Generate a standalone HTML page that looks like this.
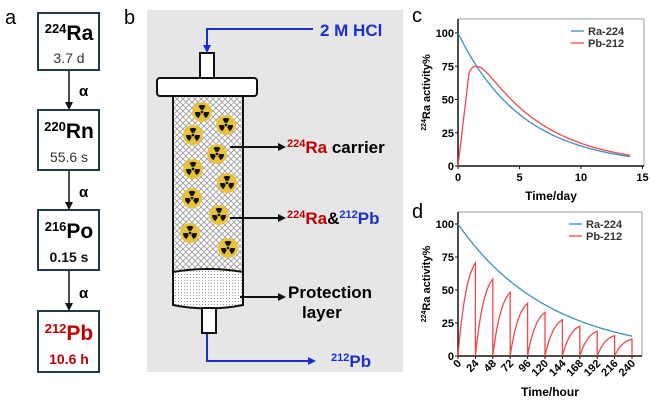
<!DOCTYPE html>
<html><head><meta charset="utf-8"><style>
body{margin:0;background:#fff;width:650px;height:402px;overflow:hidden}
svg{font-family:"Liberation Sans","DejaVu Sans",sans-serif}
</style></head><body>
<svg id="s" width="650" height="402" viewBox="0 0 650 402" xmlns="http://www.w3.org/2000/svg">
<defs>
<pattern id="hatch" width="6" height="6" patternUnits="userSpaceOnUse">
<rect width="6" height="6" fill="#fff"/>
<path d="M0,0L6,6M6,0L0,6" stroke="#999" stroke-width="0.8"/>
</pattern>
<pattern id="dots" width="3" height="3" patternUnits="userSpaceOnUse">
<rect width="3" height="3" fill="#fff"/><rect x="1" y="1" width="1" height="1" fill="#999"/>
</pattern>
<marker id="ab" markerWidth="8" markerHeight="8" refX="6" refY="4" orient="auto" markerUnits="userSpaceOnUse"><path d="M0,0L8,4L0,8z" fill="#111"/></marker>
<marker id="abl" markerWidth="8" markerHeight="8" refX="6" refY="4" orient="auto" markerUnits="userSpaceOnUse"><path d="M0,0L8,4L0,8z" fill="#1a2fd0"/></marker>
<g id="rad"><circle r="10" fill="#e8c23a"/><circle r="1.6" fill="#111"/>
<path d="M0,0 L-3.5,-6.1 A7,7 0 0,1 3.5,-6.1Z M0,0 L7,0 A7,7 0 0,1 3.5,6.1Z M0,0 L-3.5,6.1 A7,7 0 0,1 -7,0Z" fill="#111"/><circle r="2.3" fill="#e8c23a"/><circle r="1.4" fill="#111"/></g>
</defs>
<text x="5" y="24" font-size="20">a</text>
<g fill="none" stroke="#1f3a4a" stroke-width="2">
<rect x="38" y="13" width="61" height="57"/><rect x="38" y="110" width="61" height="60"/>
<rect x="38" y="210" width="61" height="60"/><rect x="38" y="311" width="61" height="61"/>
</g>
<g stroke="#111" stroke-width="1.5" marker-end="url(#ab)">
<line x1="69" y1="71" x2="69" y2="108"/><line x1="69" y1="171" x2="69" y2="208"/><line x1="69" y1="271" x2="69" y2="309"/>
</g>
<g font-weight="bold" font-size="15"><text x="79" y="96">α</text><text x="79" y="197">α</text><text x="79" y="298">α</text></g>
<g font-weight="bold" text-anchor="middle">
<text x="69" y="40" font-size="21"><tspan font-size="13" dy="-7">224</tspan><tspan dy="7">Ra</tspan></text>
<text x="69" y="138" font-size="21"><tspan font-size="13" dy="-7">220</tspan><tspan dy="7">Rn</tspan></text>
<text x="69" y="238" font-size="21"><tspan font-size="13" dy="-7">216</tspan><tspan dy="7">Po</tspan></text>
<text x="69" y="340" font-size="21" fill="#c00000"><tspan font-size="13" dy="-7">212</tspan><tspan dy="7">Pb</tspan></text>
</g>
<text x="69" y="63" font-size="14" text-anchor="middle" fill="#333">3.7 d</text>
<text x="69" y="162" font-size="14" text-anchor="middle" fill="#333">55.6 s</text>
<text x="69" y="262" font-size="14" text-anchor="middle" font-weight="bold" fill="#111">0.15 s</text>
<text x="69" y="364" font-size="14" text-anchor="middle" font-weight="bold" fill="#c00000">10.6 h</text>
<text x="124" y="24" font-size="20">b</text>
<rect x="147" y="10" width="256" height="362" fill="#e6e6e6"/>
<path d="M313,29 H207 V51" fill="none" stroke="#1a2fd0" stroke-width="2" marker-end="url(#abl)"/>
<text x="320" y="36" font-size="17" font-weight="bold" fill="#1a2fd0">2 M HCl</text>
<rect x="200" y="53" width="14" height="25" fill="#fff" stroke="#111" stroke-width="2"/>
<rect x="173" y="94" width="70" height="178" fill="url(#hatch)" stroke="#111" stroke-width="2"/>
<path d="M173,272 Q208,266 243,272 V305 Q208,312 173,305Z" fill="url(#dots)" stroke="#111" stroke-width="2"/>
<rect x="202" y="308" width="14" height="25" fill="#fff" stroke="#111" stroke-width="2"/>
<rect x="157" y="78" width="100" height="18" rx="3" fill="#fff" stroke="#111" stroke-width="2"/>
<use href="#rad" x="202" y="112"/><use href="#rad" x="226" y="125"/><use href="#rad" x="193" y="135"/>
<use href="#rad" x="217" y="154"/><use href="#rad" x="193" y="169"/><use href="#rad" x="227" y="183"/>
<use href="#rad" x="192" y="198"/><use href="#rad" x="219" y="215"/><use href="#rad" x="190" y="233"/><use href="#rad" x="228" y="248"/>
<g stroke="#111" stroke-width="2" marker-end="url(#ab)">
<line x1="230" y1="147" x2="284" y2="147"/><line x1="230" y1="218" x2="284" y2="218"/><line x1="240" y1="297" x2="284" y2="297"/>
</g>
<text x="287" y="153" font-size="17" font-weight="bold"><tspan fill="#c00000"><tspan font-size="11" dy="-6">224</tspan><tspan dy="6">Ra</tspan></tspan> carrier</text>
<text x="287" y="224" font-size="17" font-weight="bold"><tspan fill="#c00000"><tspan font-size="11" dy="-6">224</tspan><tspan dy="6">Ra</tspan></tspan>&amp;<tspan fill="#1a2fd0"><tspan font-size="11" dy="-6">212</tspan><tspan dy="6">Pb</tspan></tspan></text>
<text x="288" y="298" font-size="17" font-weight="bold">Protection</text>
<text x="302" y="318" font-size="17" font-weight="bold">layer</text>
<path d="M207,334 V361 H314" fill="none" stroke="#1a2fd0" stroke-width="2" marker-end="url(#abl)"/>
<text x="331" y="367" font-size="17" font-weight="bold" fill="#1a2fd0"><tspan font-size="11" dy="-6">212</tspan><tspan dy="6">Pb</tspan></text>
<text x="412" y="22" font-size="20">c</text>
<text x="412" y="218" font-size="20">d</text>
<g id="charts"></g>
</svg>
<script>
var g=document.getElementById('charts'),NS='http://www.w3.org/2000/svg';
function el(t,a,txt){var e=document.createElementNS(NS,t);for(var k in a)e.setAttribute(k,a[k]);if(txt!=null)e.textContent=txt;g.appendChild(e);return e;}
function chart(x0,x1,xmax,ytop,y100,y0,right,ticks,rot,xt,ra,pb){
 var sx=function(v){return x0+(x1-x0)*v/xmax},sy=function(v){return y0-(y0-y100)*v/100};
 el('path',{d:'M'+x0+','+ytop+'H'+right+'V'+y0,fill:'none',stroke:'#999','stroke-width':1});
 el('path',{d:'M'+x0+','+ytop+'V'+y0+'H'+right,fill:'none',stroke:'#111','stroke-width':1.5});
 [0,25,50,75,100].forEach(function(v){var y=sy(v);el('line',{x1:x0-3,x2:x0,y1:y,y2:y,stroke:'#111'});el('text',{x:x0-4,y:y+4,'font-size':11,'font-weight':'bold','text-anchor':'end'},v);});
 ticks.forEach(function(v){var x=sx(v);el('line',{x1:x,x2:x,y1:y0,y2:y0+3,stroke:'#111'});
  if(rot)el('text',{x:x+4,y:y0+8,'font-size':11,'font-weight':'bold','text-anchor':'end',transform:'rotate(-45 '+(x+4)+' '+(y0+8)+')'},v);
  else el('text',{x:x,y:y0+15,'font-size':11,'font-weight':'bold','text-anchor':'middle'},v);});
 el('text',{x:(x0+right)/2,y:xt,'font-size':12,'font-weight':'bold','text-anchor':'middle'},'Time/'+(rot?'hour':'day'));
 var ty=(ytop+y0)/2,t=el('text',{x:430,y:ty,'font-size':11,'font-weight':'bold','text-anchor':'middle',transform:'rotate(-90 430 '+ty+')'});
 t.innerHTML='<tspan font-size="7" dy="-4">224</tspan><tspan dy="4">Ra activity%</tspan>';
 el('path',{d:ra,fill:'none',stroke:'#3a8fc4','stroke-width':1.3});
 el('path',{d:pb,fill:'none',stroke:'#f04848','stroke-width':1.3});
 el('line',{x1:right-73,x2:right-60,y1:ytop+12,y2:ytop+12,stroke:'#3a8fc4','stroke-width':1.3});
 el('line',{x1:right-73,x2:right-60,y1:ytop+24,y2:ytop+24,stroke:'#f04848','stroke-width':1.3});
 el('text',{x:right-56,y:ytop+16,'font-size':11,'font-weight':'bold',fill:'#333'},'Ra-224');
 el('text',{x:right-56,y:ytop+28,'font-size':11,'font-weight':'bold',fill:'#333'},'Pb-212');
}
var lr=Math.LN2/3.66,lp=Math.LN2/(10.6/24);
function sxc(v){return 458+12.3*v} function syc(v){return 166-1.33*v}
var ra='',pb='';
for(var i=0;i<=140;i++){var t=i/10;ra+=(i?'L':'M')+sxc(t).toFixed(1)+','+syc(100*Math.exp(-lr*t)).toFixed(1);
 var p=t<=0.9?t/0.9*70:100*lp/(lp-lr)*(Math.exp(-lr*t)-Math.exp(-lp*t))+(t<1.5?(1.5-t)*3:0);
 pb+=(i?'L':'M')+sxc(t).toFixed(1)+','+syc(p).toFixed(1);}
chart(458,642.5,15,19,33,166,644,[0,5,10,15],false,200,ra,pb);
var lrh=Math.LN2/(3.66*24),lph=Math.LN2/10.6;
function sxd(v){return 458+174*v/240} function syd(v){return 356-1.32*v}
ra='';pb='';
for(var i=0;i<=240;i++){ra+=(i?'L':'M')+sxd(i).toFixed(1)+','+syd(100*Math.exp(-lrh*i)).toFixed(1);}
for(var c=0;c<10;c++){var s=c*24;pb+='M'+sxd(s).toFixed(1)+','+syd(0);
 for(var k=1;k<=24;k++){var A0=100*Math.exp(-lrh*s);var p=A0*lph/(lph-lrh)*(Math.exp(-lrh*k)-Math.exp(-lph*k));pb+='L'+sxd(s+k).toFixed(1)+','+syd(p).toFixed(1);}
 pb+='L'+sxd(s+24).toFixed(1)+','+syd(0);}
chart(458,632,240,212,224,356,642,[0,24,48,72,96,120,144,168,192,216,240],true,396,ra,pb);
</script>
</body></html>
